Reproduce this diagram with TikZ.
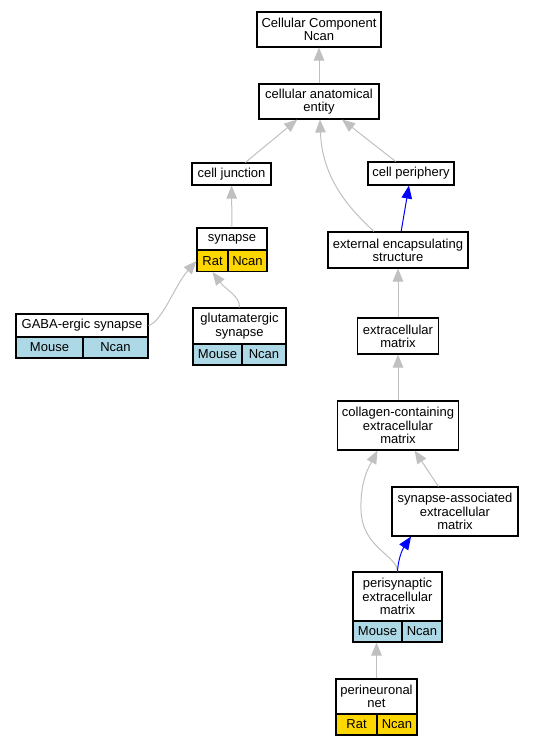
\documentclass[tikz,border=0pt]{standalone}
\usepackage{fontspec}
\setmainfont{Liberation Sans}
\usetikzlibrary{arrows.meta}
\definecolor{ratgold}{HTML}{FFD700}
\definecolor{mouseblue}{HTML}{ADD8E6}
\definecolor{edgegray}{HTML}{C0C0C0}

\begin{document}
\begin{tikzpicture}
[x=1pt,y=-1pt,
 termbox/.style={shape=rectangle,draw,line width=1.1pt,fill=white,align=center,%
   inner sep=1pt,font=\fontsize{13}{13.3}\selectfont},
 cellbox/.style={termbox,minimum height=21pt},
 isaedge/.style={-{Triangle[length=13pt,width=10.5pt]},line width=1pt,draw=edgegray},
 partedge/.style={isaedge,draw=blue}]
\useasboundingbox (0,0) rectangle (533,747);
%% term boxes
\foreach \nodename/\x/\y/\w/\h/\txt in {
  cc/319/29.5/124/35/{Cellular Component\\Ncan},
  cae/319/101.5/120/35/{cellular anatomical\\entity},
  cj/231.5/174/79/22/{cell junction},
  cp/411/173.5/86/23/{cell periphery},
  syn/232/239/70/22/{synapse},
  gaba/82/325.5/132/23/{GABA-ergic synapse},
  glu/239.5/326/93/36/{glutamatergic\\synapse},
  ees/398/250/140/36/{external encapsulating\\structure},
  ecm/398/336/81/36/{extracellular\\matrix},
  col/398/425.5/121/49/{collagen-containing\\extracellular\\matrix},
  sae/455/511.5/126/49/{synapse-associated\\extracellular\\matrix},
  peri/397.5/596.5/89/49/{perisynaptic\\extracellular\\matrix},
  pnn/376.5/696.5/81/35/{perineuronal\\net}} {
  \node (\nodename) at (\x,\y) [termbox,minimum width=\w pt,minimum height=\h pt] {\txt};
}
%% species and gene cells
\foreach \nodename/\x/\y/\w/\colour/\txt in {
  synr/212.5/261/31/ratgold/Rat, synn/247.5/261/39/ratgold/Ncan,
  gabam/49.5/347.5/67/mouseblue/Mouse, gaban/115.5/347.5/65/mouseblue/Ncan,
  glum/217.5/354.5/49/mouseblue/Mouse, glun/264/354.5/44/mouseblue/Ncan,
  perim/377.5/631.5/49/mouseblue/Mouse, perin/422/631.5/40/mouseblue/Ncan,
  pnnr/356.5/724.5/41/ratgold/Rat, pnnn/397/724.5/40/ratgold/Ncan} {
  \node (\nodename) at (\x,\y) [cellbox,fill=\colour,minimum width=\w pt] {\txt};
}
%% is_a edges
\path
(cae) edge[isaedge] (cc)
(cj) edge[isaedge] (cae)
(cp) edge[isaedge] (cae)
(syn) edge[isaedge] (cj)
(ecm) edge[isaedge] (ees)
(col) edge[isaedge] (ecm)
(sae) edge[isaedge] (col)
(pnn.north) edge[isaedge] (pnn.north |- perim.south);
\draw[isaedge] ([xshift=-24pt]ees.north) .. controls (345,205) and (322,175) .. ([xshift=1pt]cae.south);
\draw[isaedge] (gaba.east) .. controls (162,322) and (175,285) .. (synr.west);
\draw[isaedge] (glu.north) .. controls (240,296) and (226,290) .. (synr.south);
\draw[isaedge] (peri.north) .. controls (397,555) and (362,548) .. (361,510)
  .. controls (360,480) and (370,465) .. ([xshift=-20.5pt]col.south);
%% part_of edges
\draw[partedge] (ees) -- (cp);
\draw[partedge] (peri.north) .. controls (398,560) and (402,550) .. ([xshift=-44pt]sae.south);
\end{tikzpicture}
\end{document}
